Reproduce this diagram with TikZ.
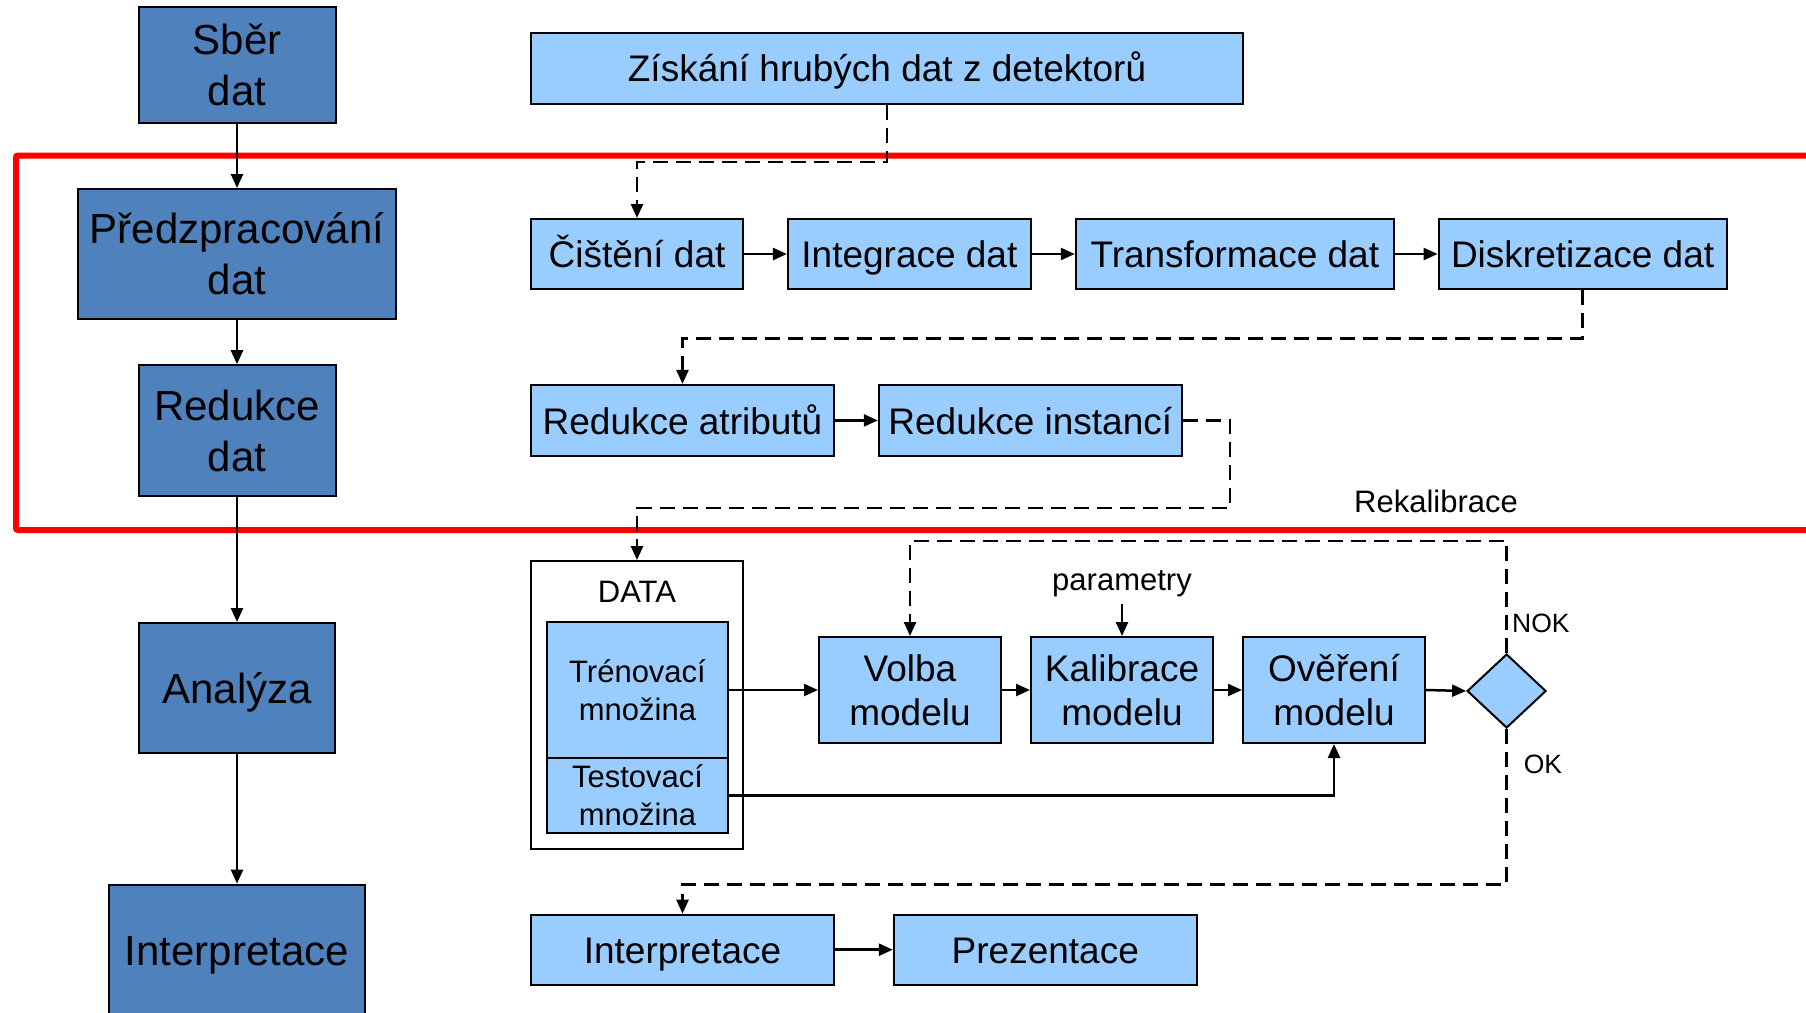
\documentclass[tikz,border=0pt]{standalone}
\usepackage{fontspec}
\setmainfont{Liberation Sans}
\usetikzlibrary{arrows.meta,shapes.geometric}
\definecolor{darkb}{HTML}{4F81BD}
\definecolor{lightb}{HTML}{99CCFF}
\begin{document}
\begin{tikzpicture}[x=1pt,y=-1pt,
  bigbox/.style={draw=black, line width=2pt, fill=darkb, inner sep=0pt, align=center, font=\fontsize{42}{51}\selectfont},
  smallbox/.style={draw=black, line width=2pt, fill=lightb, inner sep=0pt, align=center, font=\fontsize{37}{44}\selectfont},
  oneS/.style={text height=35pt, text depth=7.5pt},
  oneB/.style={text height=40pt, text depth=8.5pt},
  databox/.style={draw=black, line width=2pt, fill=lightb, inner sep=0pt, align=center, font=\fontsize{31}{38}\selectfont},
  arr/.style={line width=2.5pt, -{Triangle[length=14pt,width=12pt]}},
  darr/.style={arr, dash pattern=on 15pt off 8pt},
  lbl/.style={inner sep=0pt, font=\fontsize{31}{37}\selectfont},
  slbl/.style={inner sep=0pt, font=\fontsize{26.5}{32}\selectfont},
]
\useasboundingbox (0,0) rectangle (1806,1012);
\clip (0,0) rectangle (1806,1012);
\fill[white] (0,0) rectangle (1806,1012);

% red frame
\draw[red, line width=6pt, rounded corners=2pt] (16,155.5) rectangle (1840,530);

% left column
\node[bigbox, minimum width=197pt, minimum height=116pt] (sber) at (237,65) {Sběr\\dat};
\node[bigbox, minimum width=318pt, minimum height=130pt] (pred) at (237,254) {Předzpracování\\dat};
\node[bigbox, minimum width=197pt, minimum height=131pt] (redd) at (237,430.7) {Redukce\\dat};
\node[bigbox, oneB, minimum width=196pt, minimum height=130pt] (anal) at (237,688) {Analýza};
\node[bigbox, oneB, minimum width=256pt, minimum height=130pt] (interp1) at (237,949.6) {Interpretace};

\draw[arr] (sber) -- (pred);
\draw[arr] (pred) -- (redd);
\draw[arr] (redd) -- (anal);
\draw[arr] (anal) -- (interp1);

% right column, top
\node[smallbox, oneS, minimum width=712pt, minimum height=71pt] (zisk) at (887,68) {Získání hrubých dat z detektorů};
\node[smallbox, oneS, minimum width=212pt, minimum height=70pt] (cist) at (637,254) {Čištění dat};
\node[smallbox, oneS, minimum width=243pt, minimum height=70pt] (integ) at (909.4,254) {Integrace dat};
\node[smallbox, oneS, minimum width=318pt, minimum height=70pt] (trans) at (1234.8,254) {Transformace dat};
\node[smallbox, oneS, minimum width=288pt, minimum height=70pt] (disk) at (1582.6,254) {Diskretizace dat};
\node[smallbox, oneS, minimum width=303pt, minimum height=71pt] (redatr) at (682.5,420.4) {Redukce atributů};
\node[smallbox, oneS, minimum width=303pt, minimum height=71pt] (redinst) at (1030.3,420.4) {Redukce instancí};

\draw[darr] (zisk.south) -- ++(0,57.3) -| (cist.north);
\draw[arr] (cist) -- (integ);
\draw[arr] (integ) -- (trans);
\draw[arr] (trans) -- (disk);
\draw[darr] (disk.south) -- ++(0,48.5) -| (redatr.north);
\draw[arr] (redatr) -- (redinst);

% data block
\node[draw=black, line width=2pt, fill=white, minimum width=212pt, minimum height=288pt, inner sep=0pt] (datab) at (637,705) {};
\node[lbl] (datal) at (637,592) {DATA};
\node[databox, minimum width=181pt, minimum height=136pt] (tren) at (637.5,690) {Trénovací\\množina};
\node[databox, minimum width=181pt, minimum height=75pt] (test) at (637.5,795.5) {Testovací\\množina};

\coordinate (c1) at (1230,508);
\draw[darr] (redinst.east) -| (c1) -| (datab.north);

\node[lbl] at (1436,501) {Rekalibrace};

% model row
\node[smallbox, minimum width=182pt, minimum height=106pt] (volba) at (910,690) {Volba\\modelu};
\node[smallbox, minimum width=182pt, minimum height=106pt] (kal) at (1122,690) {Kalibrace\\modelu};
\node[smallbox, minimum width=182pt, minimum height=106pt] (over) at (1334,690) {Ověření\\modelu};
\node[diamond, draw=black, line width=2pt, fill=lightb, minimum width=79pt, minimum height=74pt, inner sep=0pt] (dia) at (1506.6,691) {};

\node[lbl] (param) at (1122,584) {parametry};
\draw[arr, shorten <=7pt] (param.south) -- (kal.north);

\draw[arr] (tren.east) -- (volba.west);
\draw[arr] (volba) -- (kal);
\draw[arr] (kal) -- (over);
\draw[arr] (over.east) -- (dia.west);
\draw[arr] (test.east) -| (over.south);

% bottom row
\node[smallbox, oneS, minimum width=303pt, minimum height=70pt] (interp2) at (682.5,949.7) {Interpretace};
\node[smallbox, oneS, minimum width=303pt, minimum height=70pt] (prez) at (1045.3,949.7) {Prezentace};
\draw[arr] (interp2) -- (prez);

\coordinate (c2) at (1506.6,541);
\draw[darr] (dia.north) -- (c2) -| (volba.north);
\node[slbl, anchor=west] at (1512,623) {NOK};

\coordinate (c3) at (1506.6,884.6);
\draw[darr] (dia.south) -- (c3) -| (interp2.north);
\node[slbl] at (1543,764) {OK};
\end{tikzpicture}
\end{document}
